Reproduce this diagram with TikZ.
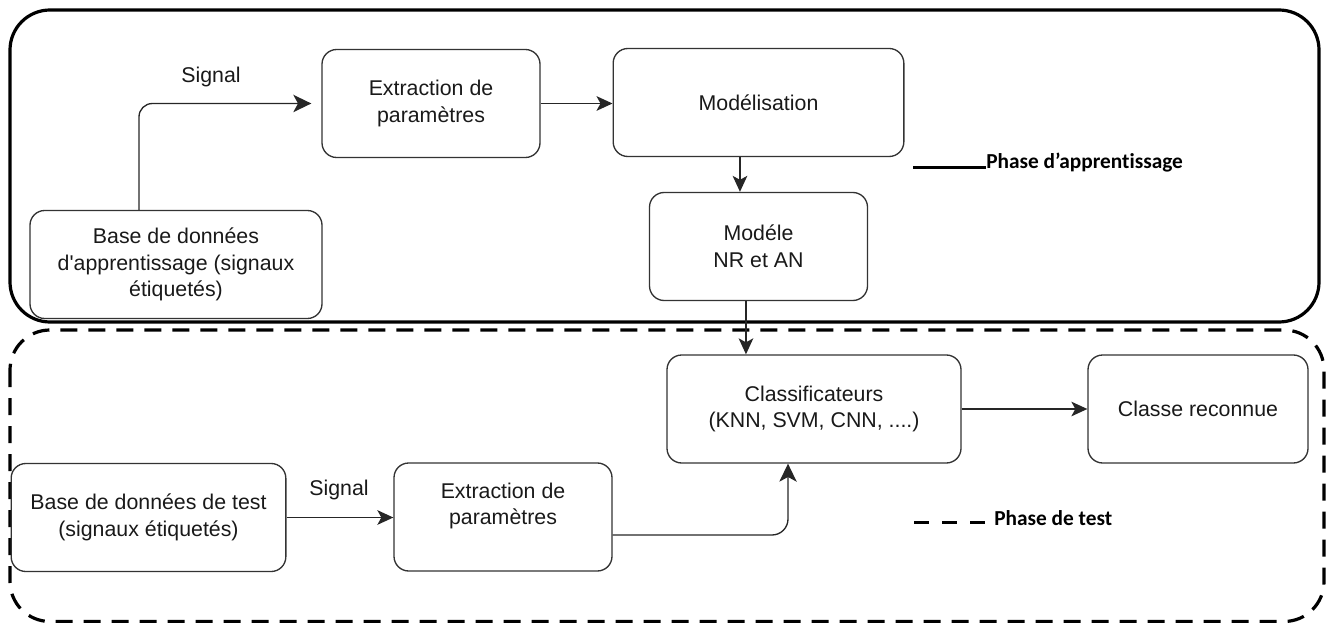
\documentclass[tikz,border=0pt]{standalone}
\usepackage{fontspec}
\newfontfamily\boxfont{Liberation Sans}[Ligatures=TeXOff]
\newfontfamily\legfont{Carlito}[Ligatures=NoCommon]
\usetikzlibrary{arrows.meta}
\tikzset{
  bloc/.style={draw=black!80, line width=1pt, rounded corners=11pt, align=center,
    font=\boxfont\fontsize{16}{20}\selectfont, text=black!90,
    minimum width=163.5pt, minimum height=81pt, inner sep=2pt},
  fleche/.style={-{Stealth[length=12pt, width=11pt, inset=3pt]}, line width=1pt, draw=black!85},
  grandefleche/.style={-{Stealth[length=13.5pt, width=13pt, inset=3.5pt]}, line width=1pt, draw=black!85},
  etiq/.style={font=\boxfont\fontsize{16}{20}\selectfont, text=black!90},
  legende/.style={font=\legfont\bfseries\fontsize{16}{19}\selectfont, anchor=west, inner sep=0pt},
  cadre/.style={line width=2.4pt, rounded corners=30pt}
}
\begin{document}
\begin{tikzpicture}[x=0.75pt, y=-0.75pt]
    \useasboundingbox (0,0) rectangle (1326,623);
    % phases
    \draw[cadre] (10,10) rectangle (1319,322);
    \draw[cadre, dash pattern=on 12.75pt off 8.25pt] (10,330) rectangle (1324,621.5);
    % apprentissage
    \node[bloc, minimum width=219pt] (bda) at (176,264.5) {Base de donn\'ees\\d'apprentissage (signaux\\\'etiquet\'es)};
    \node[bloc] (ext1) at (431,103.5) {Extraction de\\param\`etres};
    \node[bloc, minimum width=218pt] (mod) at (758.5,102.5) {Mod\'elisation};
    \node[bloc] (modele) at (758.5,246.5) {Mod\'ele\\NR et AN};
    % test
    \node[bloc, minimum width=220.5pt] (clf) at (814,409) {Classificateurs\\(KNN, SVM, CNN, ....)};
    \node[bloc, minimum width=165pt] (classe) at (1198,409) {Classe reconnue};
    \node[bloc, minimum width=206pt] (bdt) at (148.5,517.5) {Base de donn\'ees de test\\(signaux \'etiquet\'es)};
    \node[bloc] (ext2) at (503,517) {Extraction de\\param\`etres\\\mbox{}};
    % liaisons
    \draw[grandefleche, rounded corners=10pt, shorten >=7.5pt] ([xshift=-27.75pt]bda.north) |- (ext1.west);
    \node[etiq] (sig1) at (211,77) {Signal};
    \draw[fleche] (ext1.east) -- (ext1.east -| mod.west);
    \draw[fleche] ([xshift=-13.9pt]mod.south) -- ([xshift=-13.9pt]mod.south |- modele.north);
    \draw[fleche] ([xshift=-9.4pt]modele.south) -- ([xshift=-9.4pt]modele.south |- clf.north);
    \draw[fleche] (bdt.east) -- (bdt.east -| ext2.west);
    \node[etiq] (sig2) at (339,490) {Signal};
    \draw[grandefleche, rounded corners=12pt] ([yshift=-13.5pt]ext2.east) -| ([xshift=-19.5pt]clf.south);
    \draw[fleche] (clf.east) -- (clf.east -| classe.west);
    % legende
    \node[legende] (legappr) at (986,163) {Phase d’apprentissage};
    \coordinate (traitappr) at (913,168);
    \draw[line width=2.25pt] (traitappr) -- (traitappr -| legappr.west);
    \node[legende] (legtest) at (994,518) {Phase de test};
    \coordinate (traittest) at (914,522);
    \draw[line width=2.25pt, dash pattern=on 11.25pt off 9.75pt] (traittest) -- ([xshift=-6.75pt]traittest -| legtest.west);
\end{tikzpicture}
\end{document}
